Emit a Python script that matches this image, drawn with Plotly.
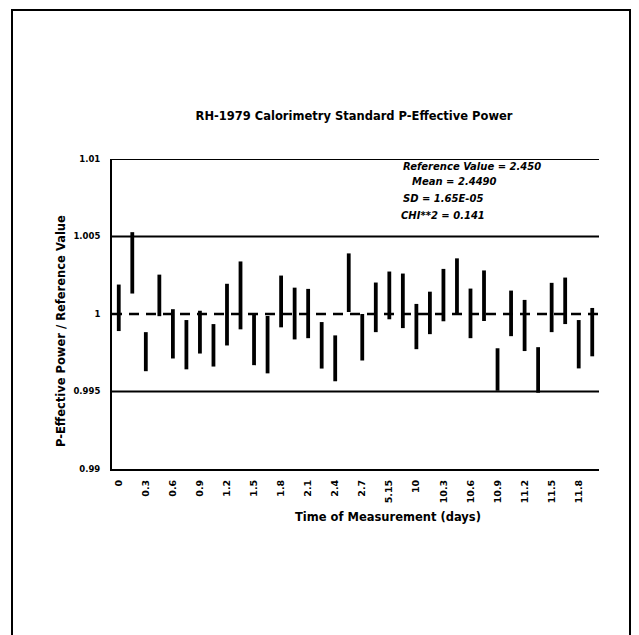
import plotly.graph_objects as go

categories = ["0", "0.15", "0.3", "0.45", "0.6", "0.75", "0.9", "1.05", "1.2", "1.35",
              "1.5", "1.65", "1.8", "1.95", "2.1", "2.25", "2.4", "2.55", "2.7", "2.85",
              "5.15", "5.3", "10", "10.15", "10.3", "10.45", "10.6", "10.75", "10.9", "11.05",
              "11.2", "11.35", "11.5", "11.65", "11.8", "11.95"]

ratio = [1.0004, 1.0033, 0.99757, 1.0012, 0.99872, 0.99802, 0.99883, 0.99798, 0.99996, 1.0012,
         0.99835, 0.99802, 1.00081, 1.00003, 1.00003, 0.99798, 0.99714, 1.00202, 0.9985, 1.00043,
         1.0012, 1.00085, 0.99919, 1.00007, 1.00122, 1.00177, 1.00004, 1.00118, 0.99642, 1.00004,
         0.99926, 0.99639, 1.00042, 1.00085, 0.99805, 0.99883]

uncert = [0.0015, 0.00198, 0.00126, 0.00134, 0.00159, 0.00159, 0.00138, 0.00137, 0.00199, 0.00219,
          0.00165, 0.00185, 0.00167, 0.00167, 0.00159, 0.0015, 0.00148, 0.00189, 0.0015, 0.0016,
          0.00154, 0.00176, 0.00146, 0.00137, 0.00169, 0.00182, 0.0016, 0.00163, 0.00137, 0.00147,
          0.00165, 0.00147, 0.00159, 0.0015, 0.00156, 0.00156]

tick_labels = ["0", "0.3", "0.6", "0.9", "1.2", "1.5", "1.8", "2.1", "2.4", "2.7",
               "5.15", "10", "10.3", "10.6", "10.9", "11.2", "11.5", "11.8"]

y_ticks = [0.99, 0.995, 1.0, 1.005, 1.01]
y_tick_text = ["0.99", "0.995", "1", "1.005", "1.01"]
grid_values = [1.01, 1.005, 0.995]
reference_ratio = 1.0

title_text = "RH-1979 Calorimetry Standard P-Effective Power"
x_title = "Time of Measurement (days)"
y_title = "P-Effective Power / Reference Value"
stats_lines = ["Reference Value = 2.450", "Mean = 2.4490", "SD = 1.65E-05", "CHI**2 = 0.141"]

FONT = "DejaVu Sans"
W, H = 631, 627
L, R, T, B = 104, 40, 151, 166
PW, PH = W - L - R, H - T - B
OFF = 8  # page offset of the figure inside the browser window


def px_x(x):
    return (x - OFF - L) / PW


def px_y(y):
    return (T + PH - (y - OFF)) / PH


fig = go.Figure()
fig.add_trace(go.Scatter(
    x=categories, y=ratio, mode="markers",
    marker=dict(size=1, color="rgba(0,0,0,0)"),
    error_y=dict(type="data", array=uncert, visible=True, thickness=3.8, width=0, color="black"),
    showlegend=False, hoverinfo="x+y",
))

for gv in grid_values:
    fig.add_shape(type="line", xref="paper", x0=0, x1=1, yref="y", y0=gv, y1=gv,
                  line=dict(color="black", width=2), layer="below")

fig.add_shape(type="line", xref="paper", x0=0, x1=1, yref="y", y0=reference_ratio, y1=reference_ratio,
              line=dict(color="black", width=2.5, dash="10px,7px"), layer="below")

# outer page border
fig.add_shape(type="rect", xref="paper", yref="paper",
              x0=px_x(12), x1=px_x(630), y0=-0.6, y1=px_y(10),
              line=dict(color="black", width=2))

# statistics block (one annotation per line)
line_x = [401, 410, 401, 399]
line_y = [166, 181, 198, 215]
for txt, lx, ly in zip(stats_lines, line_x, line_y):
    fig.add_annotation(
        xref="paper", yref="paper", x=px_x(lx), y=px_y(ly),
        xanchor="left", yanchor="middle", showarrow=False,
        text="<b><i>" + txt + "</i></b>",
        font=dict(family=FONT, size=10, color="black"),
    )

# axis titles
fig.add_annotation(xref="paper", yref="paper", x=px_x(388), y=px_y(517),
                   xanchor="center", yanchor="middle", showarrow=False,
                   text="<b>" + x_title + "</b>",
                   font=dict(family=FONT, size=11.5, color="black"))
fig.add_annotation(xref="paper", yref="paper", x=px_x(61), y=px_y(331),
                   xanchor="center", yanchor="middle", showarrow=False, textangle=-90,
                   text="<b>" + y_title + "</b>",
                   font=dict(family=FONT, size=11.5, color="black"))

fig.update_layout(
    width=W, height=H,
    margin=dict(l=L, r=R, t=T, b=B),
    paper_bgcolor="white", plot_bgcolor="white",
    title=dict(text="<b>" + title_text + "</b>", x=0.497, xref="paper", xanchor="center",
               y=1 - (116 - OFF) / H, yref="container", yanchor="middle",
               font=dict(family=FONT, size=11.5, color="black")),
    xaxis=dict(
        type="category", categoryorder="array", categoryarray=categories,
        range=[-0.5, len(categories) - 0.5],
        tickmode="array", tickvals=tick_labels, ticktext=["<b>" + t + "</b>" for t in tick_labels],
        tickangle=-90, tickfont=dict(family=FONT, size=9.5, color="black"),
        showgrid=False, zeroline=False, showline=True, linecolor="black", linewidth=2,
        ticks="", ticklen=0, ticklabelstandoff=5,
    ),
    yaxis=dict(
        range=[0.99, 1.01], tickmode="array", tickvals=y_ticks,
        ticktext=["<b>" + t + "</b>" for t in y_tick_text],
        tickfont=dict(family=FONT, size=8.5, color="black"),
        showgrid=False, zeroline=False, showline=True, linecolor="black", linewidth=2,
        ticks="", ticklabelstandoff=8,
    ),
)

fig.write_html("out.html")
